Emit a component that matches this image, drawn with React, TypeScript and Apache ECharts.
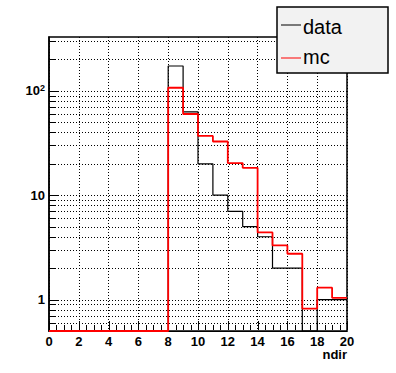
import React, { useEffect, useRef } from "react";
import * as echarts from "echarts";

// Histogram bin edges (ndir), 20 bins of width 1
const binEdges = [0, 1, 2, 3, 4, 5, 6, 7, 8, 9, 10, 11, 12, 13, 14, 15, 16, 17, 18, 19, 20];
// Bin contents
const dataCounts = [0, 0, 0, 0, 0, 0, 0, 0, 173, 63, 20, 10, 7, 5, 4, 2, 2, 0, 1, 1];
const mcCounts = [0, 0, 0, 0, 0, 0, 0, 0, 107, 60, 37, 32.7, 20.3, 18.3, 4.4, 3.3, 2.75, 0.82, 1.3, 1.04];
// Log-axis grid values (dotted) and major decades
const yGridValues = [0.6, 0.7, 0.8, 0.9, 1, 2, 3, 4, 5, 6, 7, 8, 9, 10, 20, 30, 40, 50, 60, 70, 80, 90, 100, 200, 300];
const yMajorValues = [1, 10, 100];
// x-axis tick positions (major every 2, minor every 0.5)
const xTickValues = [
  0, 0.5, 1, 1.5, 2, 2.5, 3, 3.5, 4, 4.5, 5, 5.5, 6, 6.5, 7, 7.5, 8, 8.5, 9, 9.5, 10,
  10.5, 11, 11.5, 12, 12.5, 13, 13.5, 14, 14.5, 15, 15.5, 16, 16.5, 17, 17.5, 18, 18.5, 19, 19.5, 20,
];
const Y_MIN = 0.5;
const Y_MAX = 328;
const X_MIN = 0;
const X_MAX = 20;
const legendNames = ["data", "mc"];
const seriesColors = ["#000000", "#ff0000"];

function toSteps(counts: number[]) {
  const pts: number[][] = counts.map((c, i) => [binEdges[i], c > 0 ? c : Y_MIN]);
  const last = counts[counts.length - 1];
  pts.push([binEdges[counts.length], last > 0 ? last : Y_MIN]);
  return pts;
}

export default function App() {
  const ref = useRef<HTMLDivElement>(null);
  useEffect(() => {
    if (!ref.current) return;
    const chart = echarts.init(ref.current, null, { renderer: "svg" });
    const font = "Liberation Sans, Arial, Helvetica, sans-serif";
    const option: any = {
      animation: false,
      backgroundColor: "#ffffff",
      grid: {
        left: 49,
        top: 37,
        width: 298,
        height: 294,
        show: true,
        z: 0,
        borderColor: "#000",
        borderWidth: 1.5,
        backgroundColor: "transparent",
      },
      xAxis: {
        type: "value",
        z: 0,
        min: X_MIN,
        max: X_MAX,
        interval: 2,
        name: "ndir",
        nameLocation: "end",
        nameGap: 0,
        nameMoveOverlap: false,
        nameTextStyle: {
          fontFamily: font,
          fontWeight: "bold",
          fontSize: 13,
          lineHeight: 12,
          color: "#000",
          align: "right",
          verticalAlign: "top",
          padding: [17, 0, 0, 0],
        },
        axisLine: { show: true, onZero: false, lineStyle: { color: "#000", width: 1 } },
        axisTick: { show: false },
        minorTick: { show: false },
        splitLine: { show: true, lineStyle: { color: "#000", width: 1, type: [1, 2] } },
        axisLabel: {
          fontFamily: font,
          fontWeight: "bold",
          fontSize: 13,
          lineHeight: 12,
          color: "#000",
          margin: 4,
        },
      },
      yAxis: {
        type: "log",
        z: 0,
        logBase: 10,
        min: Y_MIN,
        max: Y_MAX,
        axisLine: { show: true, onZero: false, lineStyle: { color: "#000", width: 1.5 } },
        axisTick: { show: false },
        splitLine: { show: false },
        axisLabel: {
          showMinLabel: false,
          showMaxLabel: false,
          margin: 4,
          color: "#000",
          formatter: (v: number) => {
            if (Math.abs(v - 100) < 1e-6) return "{b|10}{s|2}";
            if (Math.abs(v - 10) < 1e-6) return "{b|10}";
            if (Math.abs(v - 1) < 1e-6) return "{b|1}";
            return "";
          },
          rich: {
            b: { fontFamily: font, fontWeight: "bold", fontSize: 13, color: "#000", lineHeight: 15 },
            s: { fontFamily: font, fontWeight: "bold", fontSize: 9, color: "#000", lineHeight: 9, verticalAlign: "top" },
          },
        },
      },
      series: [
        {
          type: "custom",
          name: "ygrid",
          silent: true,
          z: 1,
          clip: false,
          data: yGridValues.map((v) => [X_MIN, v]),
          renderItem: (params: any, api: any) => {
            const v = api.value(1);
            const a = api.coord([X_MIN, v]);
            const b = api.coord([X_MAX, v]);
            const y = Math.round(a[1]) + 0.5;
            const major = yMajorValues.some((m) => Math.abs(m - v) < 1e-9);
            const len = major ? 10 : 6;
            return {
              type: "group",
              children: [
                {
                  type: "line",
                  shape: { x1: a[0], y1: y, x2: b[0], y2: y },
                  style: { stroke: "#000", lineWidth: 1, lineDash: [1, 2] },
                },
                {
                  type: "line",
                  shape: { x1: a[0], y1: y, x2: a[0] + len, y2: y },
                  style: { stroke: "#000", lineWidth: 1 },
                },
              ],
            };
          },
        },
        {
          type: "custom",
          name: "xticks",
          silent: true,
          z: 1,
          clip: false,
          data: xTickValues.map((x) => [x, Y_MIN]),
          renderItem: (params: any, api: any) => {
            const xv = api.value(0);
            const a = api.coord([xv, Y_MIN]);
            const x = Math.round(a[0]) + 0.5;
            const major = Math.abs(xv / 2 - Math.round(xv / 2)) < 1e-9;
            const len = major ? 9 : 5;
            return {
              type: "line",
              shape: { x1: x, y1: a[1] - 1, x2: x, y2: a[1] - 1 - len },
              style: { stroke: "#000", lineWidth: 1 },
            };
          },
        },
        {
          type: "line",
          name: legendNames[0],
          step: "end",
          showSymbol: false,
          clip: false,
          zlevel: 1,
          z: 10,
          data: toSteps(dataCounts),
          lineStyle: { color: seriesColors[0], width: 1.2 },
          itemStyle: { color: seriesColors[0] },
        },
        {
          type: "line",
          name: legendNames[1],
          step: "end",
          showSymbol: false,
          clip: false,
          zlevel: 1,
          z: 11,
          data: toSteps(mcCounts),
          lineStyle: { color: seriesColors[1], width: 1.8 },
          itemStyle: { color: seriesColors[1] },
        },
      ],
      graphic: [
        {
          type: "rect",
          zlevel: 2,
          z: 100,
          shape: { x: 277, y: 7, width: 111, height: 66 },
          style: { fill: "#f2f2f2", stroke: "#000", lineWidth: 1.5 },
        },
        {
          type: "line",
          zlevel: 2,
          z: 101,
          shape: { x1: 281, y1: 25, x2: 301, y2: 25 },
          style: { stroke: seriesColors[0], lineWidth: 1 },
        },
        {
          type: "text",
          zlevel: 2,
          z: 101,
          x: 303,
          y: 27,
          style: { text: legendNames[0], fontFamily: font, fontSize: 20, fill: "#000", verticalAlign: "middle" },
        },
        {
          type: "line",
          zlevel: 2,
          z: 101,
          shape: { x1: 281, y1: 58, x2: 301, y2: 58 },
          style: { stroke: seriesColors[1], lineWidth: 1 },
        },
        {
          type: "text",
          zlevel: 2,
          z: 101,
          x: 303,
          y: 57,
          style: { text: legendNames[1], fontFamily: font, fontSize: 20, fill: "#000", verticalAlign: "middle" },
        },
      ],
    };
    chart.setOption(option);
    return () => chart.dispose();
  }, []);
  return (
    <div
      ref={ref}
      style={{ position: "fixed", left: 0, top: 0, width: 396, height: 373, background: "#fff" }}
    />
  );
}
